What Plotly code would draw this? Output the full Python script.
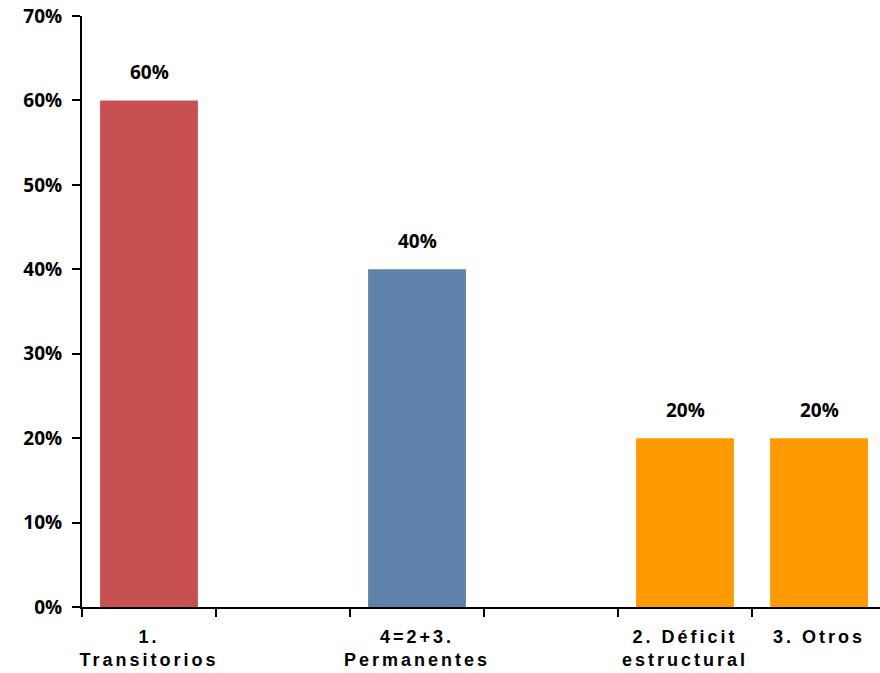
import plotly.graph_objects as go

# Category slots (two blank spacer slots keep the original spacing)
category_keys = ["trans", "gap1", "perm", "gap2", "defi", "otros"]
category_labels = ["1.<br>Transitorios", "", "4=2+3.<br>Permanentes", "", "2. Déficit<br>estructural", "3. Otros"]
shares = [0.60, None, 0.40, None, 0.20, 0.20]
bar_colors = ["#C65150", "#FFFFFF", "#6081A9", "#FFFFFF", "#FF9900", "#FF9900"]
y_ticks = [0.0, 0.1, 0.2, 0.3, 0.4, 0.5, 0.6, 0.7]

SPACED = '<span style="letter-spacing:3px">{}</span>'
NUM_FONT = dict(family="Open Sans", size=19, color="#000000", weight="bold")


def spaced(label):
    return "<br>".join(SPACED.format(part) for part in label.split("<br>")) if label else ""


fig = go.Figure(
    go.Bar(
        x=category_keys,
        y=shares,
        marker=dict(color=bar_colors, line=dict(width=0)),
        hoverinfo="skip",
    )
)

for key, val in zip(category_keys, shares):
    if val is None:
        continue
    fig.add_annotation(
        x=key, y=val, text=f"{val:.0%}", showarrow=False,
        xanchor="center", yanchor="bottom", yshift=13,
        font=NUM_FONT,
    )

fig.update_layout(
    width=880, height=673,
    margin=dict(l=82, r=0, t=16, b=66),
    paper_bgcolor="white", plot_bgcolor="white",
    bargap=0.27, showlegend=False,
)

fig.update_xaxes(
    type="category",
    range=[-0.5, 5.455],
    tickmode="array",
    tickvals=category_keys,
    ticktext=[spaced(t) for t in category_labels],
    tickangle=0,
    automargin=False,
    tickson="boundaries",
    ticklabelstandoff=12,
    ticks="outside", ticklen=8, tickwidth=2, tickcolor="#000000",
    showline=True, linecolor="#000000", linewidth=2,
    showgrid=False, zeroline=False,
    tickfont=dict(family="Liberation Sans", size=18, color="#000000", weight="bold"),
)

fig.update_yaxes(
    range=[0, 0.7],
    automargin=False,
    tickmode="array", tickvals=y_ticks, tickformat=".0%",
    ticklabelstandoff=6,
    ticks="outside", ticklen=8, tickwidth=2, tickcolor="#000000",
    showline=True, linecolor="#000000", linewidth=2,
    showgrid=False, zeroline=False,
    tickfont=NUM_FONT,
)

fig.write_html("out.html")
